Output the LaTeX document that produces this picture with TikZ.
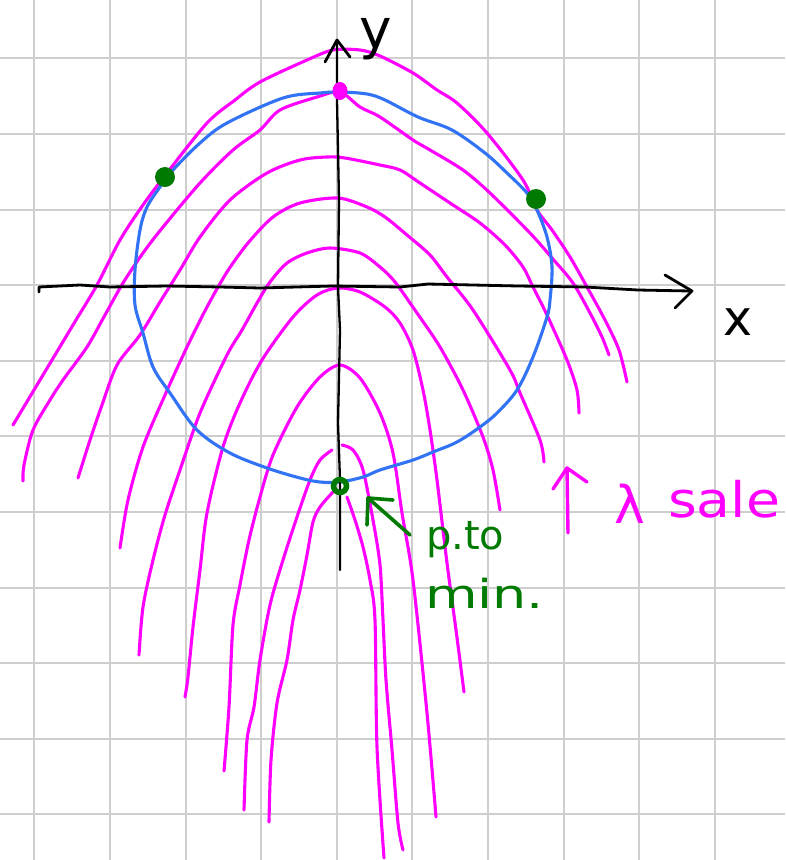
\documentclass[tikz,border=0pt]{standalone}
\usepackage{fontspec}
\setmainfont{DejaVu Sans}
\definecolor{magc}{RGB}{255,0,255}
\definecolor{bluec}{RGB}{50,115,245}
\definecolor{greenc}{RGB}{0,122,0}
\definecolor{gridc}{RGB}{206,206,206}
\begin{document}
\begin{tikzpicture}[x=1pt,y=-1pt,
  gridline/.style={gridc,line width=2pt},
  levelcurve/.style={magc,line width=3.1pt,line cap=round,line join=round},
  constraint/.style={bluec,line width=3.1pt,line join=round},
  axisline/.style={black,line width=2.8pt,line cap=round,line join=round},
  greenpen/.style={greenc,line width=3.6pt,line cap=round,line join=round},
  magpen/.style={magc,line width=3.4pt,line cap=round,line join=round},
  label/.style={inner sep=0pt,outer sep=0pt}]
\useasboundingbox (0,0) rectangle (785,860);
\fill[white] (0,0) rectangle (785,860);
% grid
\foreach \i in {0,...,9} \draw[gridline] ({34.3+75.6*\i},0) -- ({34.3+75.6*\i},860);
\foreach \j in {0,...,10} \draw[gridline] (0,{58.3+75.6*\j}) -- (785,{58.3+75.6*\j});
% level curves
\draw[levelcurve] plot[smooth,tension=0.5] coordinates {(13,425) (34,390) (55,355) (76,320) (97,285) (120,240) (143,205) (167,173) (207,123) (235,100) (260,82) (307,60) (333,50) (360,50) (380,56) (413,73) (437,90) (457,103) (487,133) (523,180) (537,210) (552,230) (570,257) (587,287) (605,320) (619,350) (627,382)};
\draw[levelcurve] plot[smooth,tension=0.5] coordinates {(23,481) (24,465) (33,430) (50,400) (63,380) (87,347) (105,315) (123,283) (143,253) (163,227) (200,183) (233,150) (260,130) (280,110) (317,97) (340,92) (360,107) (380,117) (413,140) (430,150) (463,170) (490,193) (530,233) (552,258) (573,283) (590,313) (602,337) (609,355)};
\draw[levelcurve] plot[smooth,tension=0.5] coordinates {(78,478) (90,440) (102,405) (117,365) (140,335) (160,302) (180,270) (200,237) (230,200) (267,173) (300,160) (327,157) (345,158) (380,165) (400,170) (420,183) (450,203) (480,223) (505,245) (523,267) (533,287) (547,315) (567,360) (577,390) (579,413)};
\draw[levelcurve] plot[smooth,tension=0.5] coordinates {(120,548) (128,500) (143,447) (165,395) (187,347) (207,307) (227,272) (248,243) (273,217) (300,203) (338,198) (367,207) (385,217) (407,235) (430,255) (447,277) (473,310) (510,370) (520,393) (540,440) (544,462)};
\draw[levelcurve] plot[smooth,tension=0.5] coordinates {(139,655) (143,607) (153,560) (165,515) (180,470) (200,413) (227,355) (242,330) (257,303) (270,282) (287,263) (307,253) (330,248) (360,253) (380,267) (395,282) (417,313) (440,347) (463,390) (483,437) (493,470) (500,510)};
\draw[levelcurve] plot[smooth,tension=0.5] coordinates {(185,697) (188,677) (193,627) (200,570) (207,513) (223,447) (240,403) (262,360) (293,317) (317,295) (338,288) (360,292) (385,307) (400,323) (413,350) (423,390) (430,430) (437,480) (447,563) (456,630) (464,692)};
\draw[levelcurve] plot[smooth,tension=0.5] coordinates {(224,771) (229,707) (233,625) (240,585) (249,540) (260,497) (273,455) (297,407) (320,377) (340,365) (360,378) (380,413) (393,453) (402,513) (413,580) (427,713) (436,817)};
\draw[levelcurve] plot[smooth,tension=0.5] coordinates {(332,450) (320,460) (310,480) (297,517) (283,560) (270,605) (260,660) (254,707) (247,740) (244,810)};
\draw[levelcurve] plot[smooth,tension=0.5] coordinates {(342,445) (353,450) (363,470) (373,520) (380,565) (383,620) (386,680) (392,750) (398,823) (403,850)};
\draw[levelcurve] plot[smooth,tension=0.5] coordinates {(333,492) (320,507) (313,522) (307,555) (300,590) (293,620) (287,660) (277,703) (271,760) (269,822)};
\draw[levelcurve] plot[smooth,tension=0.5] coordinates {(347,497) (355,520) (363,547) (370,580) (375,620) (377,747) (384,858)};
% constraint curve
\draw[constraint] plot[smooth cycle,tension=0.55] coordinates {(340,92) (367,94) (385,100) (418,117) (452,130) (485,153) (507,173) (527,193) (537,210) (547,237) (552,267) (550,300) (547,317) (533,357) (517,390) (497,413) (480,427) (457,442) (433,452) (413,460) (380,470) (363,477) (340,482) (320,482) (300,478) (267,468) (230,453) (197,430) (170,393) (153,367) (143,333) (135,305) (135,270) (140,230) (147,207) (160,187) (173,170) (200,143) (227,123) (283,98) (320,93)};
% axes
\draw[axisline] (39,292) -- (39,287) -- (80,285) -- (110,287) -- (167,286) -- (220,287) -- (260,288) -- (333,286) -- (400,287) -- (428,284) -- (518,286) -- (585,287) -- (638,290) -- (690,291);
\draw[axisline] (665,275) -- (692,291) -- (675,308);
\draw[axisline,line width=2.3pt] (340,570) -- (340,480) -- (338,423) -- (340,330) -- (338,287) -- (339,200) -- (337,100) -- (337,41);
\draw[axisline] (325,62) -- (337,40) -- (350,57);
\node[label,anchor=base west,font=\fontsize{55}{60}\selectfont] (ylab) at (359,48) {y};
\node[label,anchor=base west,font=\fontsize{49}{55}\selectfont] (xlab) at (723,335) {x};
% points
\fill[magc] (340,91) ellipse [x radius=7.5, y radius=9];
\fill[greenc] (165,177) circle [radius=10];
\fill[greenc] (536,199) circle [radius=10];
\draw[greenc,line width=5.5pt] (340,486) circle [radius=6.5];
% annotation: minimum point
\coordinate (tipmin) at (368,498);
\coordinate (tailmin) at (410,535);
\draw[greenpen] (tailmin) -- (tipmin);
\draw[greenpen] (367,525) -- (tipmin) -- (393,500);
\node[label,anchor=base west,text=greenc,font=\fontsize{40}{45}\selectfont] (pto) at (426,549) {p.to};
\node[label,anchor=base west,text=greenc,font=\fontsize{40}{45}\selectfont,xscale=1.35] (minlab) at (425,608) {min.};
% annotation: lambda increases
\coordinate (lamtail) at (568,533);
\coordinate (lamtip) at (567,468);
\draw[magpen] (lamtail) -- (lamtip);
\draw[magpen] (553,489) -- (lamtip) -- (587,482);
\node[label,anchor=base west,text=magc,font=\fontsize{52}{55}\selectfont] (lam) at (614,523) {λ};
\node[label,anchor=base west,text=magc,font=\fontsize{49}{55}\selectfont,xscale=1.13] (sale) at (668,517) {sale};
\end{tikzpicture}
\end{document}
